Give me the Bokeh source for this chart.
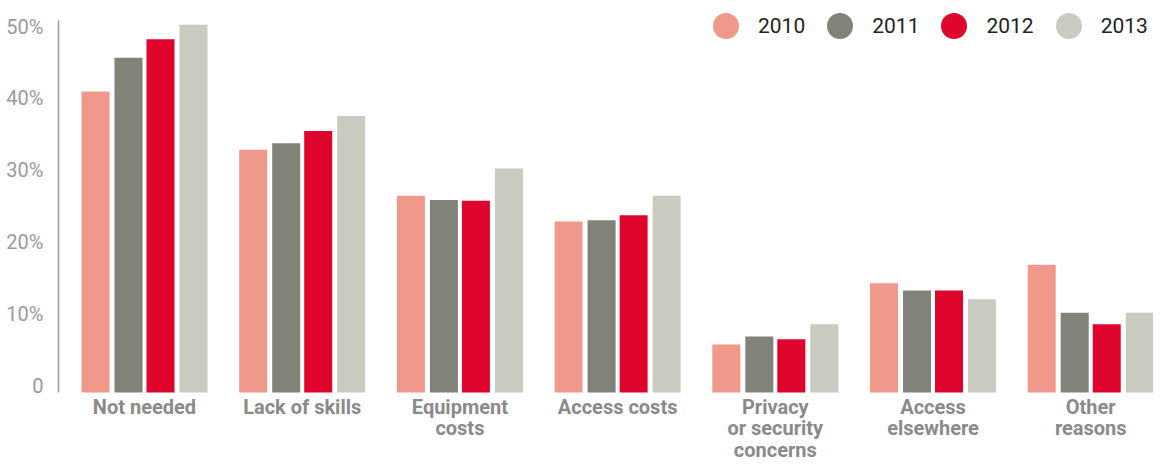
from bokeh.plotting import figure
from bokeh.models import Range1d, FixedTicker, Legend, LegendItem, ColumnDataSource, LinearAxis
from bokeh.core.properties import value
from bokeh.embed import file_html
from bokeh.resources import INLINE

categories = ["Not needed", "Lack of skills", "Equipment\ncosts", "Access costs",
              "Privacy\nor security\nconcerns", "Access\nelsewhere", "Other\nreasons"]
years = ["2010", "2011", "2012", "2013"]
v2010 = [41.9, 33.8, 27.4, 23.8, 6.7, 15.2, 17.8]
v2011 = [46.6, 34.7, 26.8, 24.0, 7.8, 14.2, 11.1]
v2012 = [49.2, 36.4, 26.7, 24.7, 7.4, 14.2, 9.5]
v2013 = [51.2, 38.5, 31.2, 27.4, 9.5, 13.0, 11.1]
y_ticks = [0, 10, 20, 30, 40, 50]
y_tick_labels = ["0", "10%", "20%", "30%", "40%", "50%"]

series = [v2010, v2011, v2012, v2013]
colors = ["#F0988A", "#81837B", "#DF052C", "#C9CBC1"]
offsets = [-0.3107, -0.1015, 0.1015, 0.3107]
bar_w = 0.1776

Y_START = -9.748        # room below zero for the category labels
Y_END = 54.59           # room above for the legend
Y_MAX_AXIS = 51.8       # top of the drawn axis line
LABEL_SHIFT = 0.95      # tick labels sit on their value, as in the reference

idx = list(range(len(categories)))

p = figure(width=1153, height=462, output_backend="svg", toolbar_location=None,
           x_range=Range1d(-0.5453, 6.398), y_range=Range1d(Y_START, Y_END),
           min_border_left=58, min_border_right=0, min_border_top=0, min_border_bottom=0)
p.outline_line_color = None
p.xgrid.visible = False
p.ygrid.visible = False
p.background_fill_color = "white"
p.yaxis.visible = False
p.xaxis.visible = False

items = []
for yr, vals, col, off in zip(years, series, colors, offsets):
    src = ColumnDataSource(dict(x=[i + off for i in idx], top=vals))
    p.vbar(x="x", top="top", bottom=0, width=bar_w, source=src,
           fill_color=col, line_color=None)
    r = p.scatter(x="x", y="top", source=src, size=0, fill_color=col, line_color=None)
    items.append(LegendItem(label=yr, renderers=[r]))

legend = Legend(items=items, orientation="horizontal", location=(635, 404),
                glyph_width=65, glyph_height=65, label_standoff=0, spacing=2,
                padding=0, margin=0, border_line_color=None, background_fill_alpha=0,
                label_text_font="Roboto", label_text_font_size="21px",
                label_text_color="#222222")
p.add_layout(legend, "center")

# y axis (labels placed just above their value line)
p.extra_y_ranges = {"lab": Range1d(Y_START - LABEL_SHIFT, Y_END - LABEL_SHIFT)}
yax = LinearAxis(y_range_name="lab", ticker=FixedTicker(ticks=y_ticks),
                 bounds=(-LABEL_SHIFT, Y_MAX_AXIS - LABEL_SHIFT))
yax.major_label_overrides = {t: l for t, l in zip(y_ticks, y_tick_labels)}
yax.axis_line_color = "#9a9a9a"
yax.axis_line_width = 1.5
yax.major_tick_line_color = None
yax.minor_tick_line_color = None
yax.major_label_text_font = "Roboto"
yax.major_label_text_font_size = "20px"
yax.major_label_text_color = "#9a9a9a"
yax.major_label_standoff = 9
p.add_layout(yax, "left")

# category labels under each group
lab_src = ColumnDataSource(dict(x=idx, y=[0] * len(idx), text=categories))
p.text(x="x", y="y", text="text", source=lab_src, y_offset=2,
       text_align="center", text_baseline="top",
       text_font=value("Roboto"), text_font_style="bold", text_font_size="20px",
       text_color="#8a8a8a", text_line_height=0.9)

open("out.html", "w").write(file_html(p, INLINE))
